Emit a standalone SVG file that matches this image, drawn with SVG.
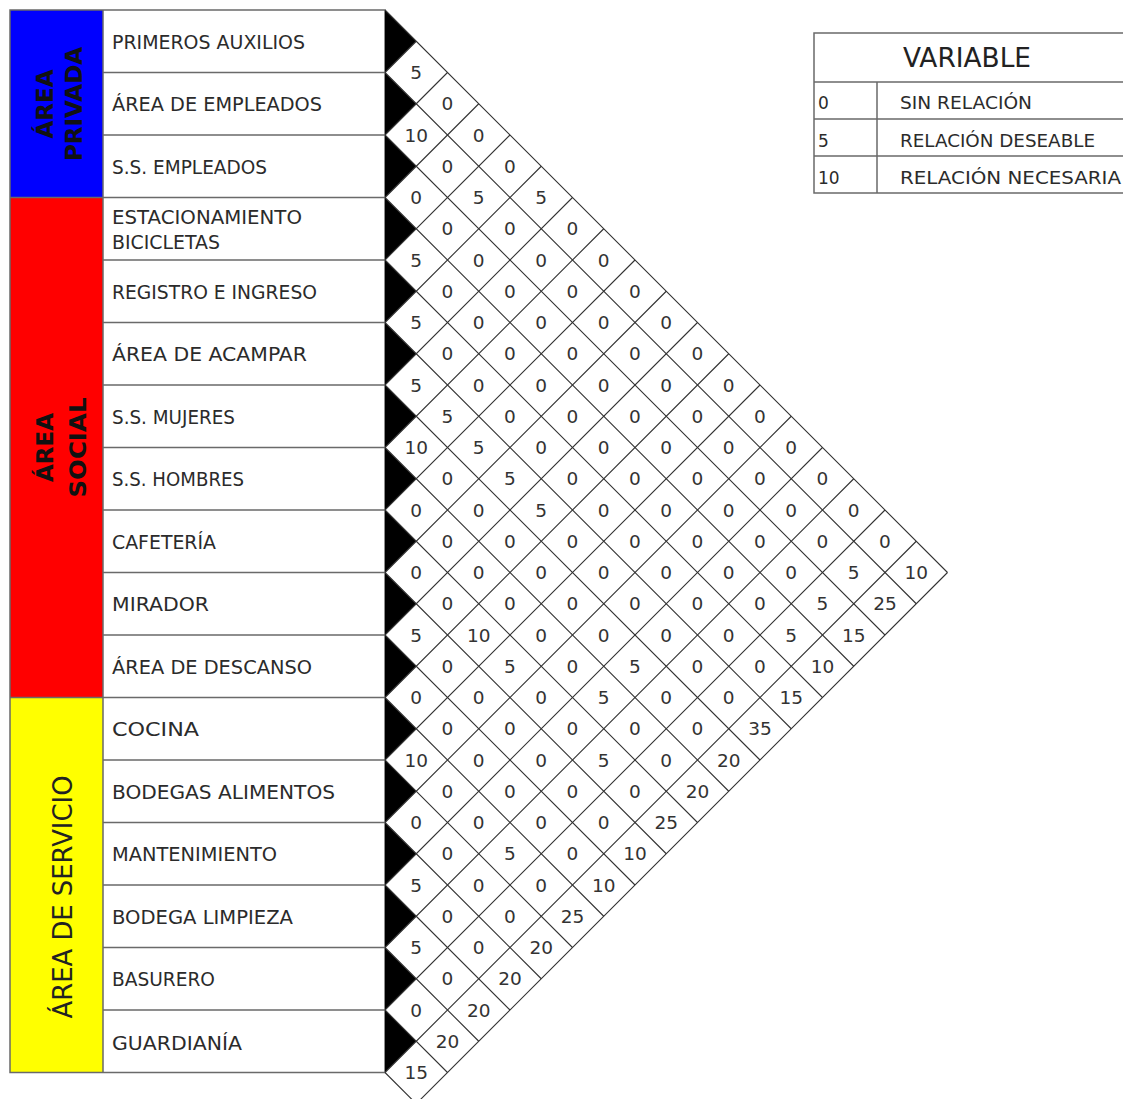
<svg xmlns="http://www.w3.org/2000/svg" width="1123" height="1099" viewBox="0 0 1123 1099">
<style>
.lbl{font-family:"DejaVu Sans","Liberation Sans",sans-serif;font-size:19px;fill:#2b2b2b}
.area{font-family:"DejaVu Sans","Liberation Sans",sans-serif;font-weight:bold;font-size:23px;fill:#111;text-anchor:middle}
.n{font-family:"DejaVu Sans","Liberation Sans",sans-serif;font-size:18.5px;fill:#333;text-anchor:middle}
.leg{font-family:"DejaVu Sans","Liberation Sans",sans-serif;font-size:18px;fill:#2b2b2b}
.row{stroke:#6a6a6a;stroke-width:1.5;fill:none}
.grid{stroke:#333;stroke-width:1.1;fill:none}
</style>
<rect width="1123" height="1099" fill="#fff"/>

<g id="areas">
  <rect x="10" y="10" width="93" height="187.5" fill="#0000ff"/>
  <rect x="10" y="197.5" width="93" height="500" fill="#ff0000"/>
  <rect x="10" y="697.5" width="93" height="375" fill="#ffff00"/>
  <g id="area-privada">
    <text class="area" transform="translate(53,104) rotate(-90)">ÁREA</text>
    <text class="area" transform="translate(82,104) rotate(-90)">PRIVADA</text>
  </g>
  <g id="area-social">
    <text class="area" transform="translate(53,447.5) rotate(-90)">ÁREA</text>
    <text class="area" transform="translate(86,447.5) rotate(-90)" textLength="100" lengthAdjust="spacingAndGlyphs">SOCIAL</text>
  </g>
  <g id="area-servicio">
    <text transform="translate(72,897) rotate(-90)" style="font-family:'DejaVu Sans','Liberation Sans',sans-serif;font-size:26px;fill:#222;text-anchor:middle" textLength="243" lengthAdjust="spacingAndGlyphs">ÁREA DE SERVICIO</text>
  </g>
</g>

<g id="table-lines">
  <path class="row" d="M103,72.5H385M103,135H385M10,197.5H385M103,260H385M103,322.5H385M103,385H385M103,447.5H385M103,510H385M103,572.5H385M103,635H385M10,697.5H385M103,760H385M103,822.5H385M103,885H385M103,947.5H385M103,1010H385"/>
  <path class="row" d="M10,10H385V1072.5H10Z M103,10V1072.5"/>
</g>

<g id="labels">
  <g id="node-primeros-auxilios"><text class="lbl" x="112" y="48.75" textLength="193" lengthAdjust="spacingAndGlyphs">PRIMEROS AUXILIOS</text></g>
  <g id="node-area-empleados"><text class="lbl" x="112" y="111.25" textLength="210" lengthAdjust="spacingAndGlyphs">ÁREA DE EMPLEADOS</text></g>
  <g id="node-ss-empleados"><text class="lbl" x="112" y="173.75" textLength="155" lengthAdjust="spacingAndGlyphs">S.S. EMPLEADOS</text></g>
  <g id="node-estacionamiento"><text class="lbl" x="112" y="223.5" textLength="190" lengthAdjust="spacingAndGlyphs">ESTACIONAMIENTO</text><text class="lbl" x="112" y="248.5" textLength="108" lengthAdjust="spacingAndGlyphs">BICICLETAS</text></g>
  <g id="node-registro"><text class="lbl" x="112" y="298.75" textLength="205" lengthAdjust="spacingAndGlyphs">REGISTRO E INGRESO</text></g>
  <g id="node-acampar"><text class="lbl" x="112" y="361.25" textLength="195" lengthAdjust="spacingAndGlyphs">ÁREA DE ACAMPAR</text></g>
  <g id="node-ss-mujeres"><text class="lbl" x="112" y="423.75" textLength="123" lengthAdjust="spacingAndGlyphs">S.S. MUJERES</text></g>
  <g id="node-ss-hombres"><text class="lbl" x="112" y="486.25" textLength="132" lengthAdjust="spacingAndGlyphs">S.S. HOMBRES</text></g>
  <g id="node-cafeteria"><text class="lbl" x="112" y="548.75" textLength="104" lengthAdjust="spacingAndGlyphs">CAFETERÍA</text></g>
  <g id="node-mirador"><text class="lbl" x="112" y="611.25" textLength="97" lengthAdjust="spacingAndGlyphs">MIRADOR</text></g>
  <g id="node-descanso"><text class="lbl" x="112" y="673.75" textLength="200" lengthAdjust="spacingAndGlyphs">ÁREA DE DESCANSO</text></g>
  <g id="node-cocina"><text class="lbl" x="112" y="736.25" textLength="87" lengthAdjust="spacingAndGlyphs">COCINA</text></g>
  <g id="node-bodegas-alimentos"><text class="lbl" x="112" y="798.75" textLength="223" lengthAdjust="spacingAndGlyphs">BODEGAS ALIMENTOS</text></g>
  <g id="node-mantenimiento"><text class="lbl" x="112" y="861.25" textLength="165" lengthAdjust="spacingAndGlyphs">MANTENIMIENTO</text></g>
  <g id="node-bodega-limpieza"><text class="lbl" x="112" y="923.75" textLength="181" lengthAdjust="spacingAndGlyphs">BODEGA LIMPIEZA</text></g>
  <g id="node-basurero"><text class="lbl" x="112" y="986.25" textLength="103" lengthAdjust="spacingAndGlyphs">BASURERO</text></g>
  <g id="node-guardiania"><text class="lbl" x="112" y="1050" textLength="130" lengthAdjust="spacingAndGlyphs">GUARDIANÍA</text></g>
</g>

<g id="connectors">
  <path fill="#000" d="M385,10L416.25,41.25L385,72.5Z M385,72.5L416.25,103.75L385,135Z M385,135L416.25,166.25L385,197.5Z M385,197.5L416.25,228.75L385,260Z M385,260L416.25,291.25L385,322.5Z M385,322.5L416.25,353.75L385,385Z M385,385L416.25,416.25L385,447.5Z M385,447.5L416.25,478.75L385,510Z M385,510L416.25,541.25L385,572.5Z M385,572.5L416.25,603.75L385,635Z M385,635L416.25,666.25L385,697.5Z M385,697.5L416.25,728.75L385,760Z M385,760L416.25,791.25L385,822.5Z M385,822.5L416.25,853.75L385,885Z M385,885L416.25,916.25L385,947.5Z M385,947.5L416.25,978.75L385,1010Z M385,1010L416.25,1041.25L385,1072.5Z"/>
  <path class="grid" d="M385,10L947.5,572.5M385,72.5L916.25,603.75M385,135L885,635M385,197.5L853.75,666.25M385,260L822.5,697.5M385,322.5L791.25,728.75M385,385L760,760M385,447.5L728.75,791.25M385,510L697.5,822.5M385,572.5L666.25,853.75M385,635L635,885M385,697.5L603.75,916.25M385,760L572.5,947.5M385,822.5L541.25,978.75M385,885L510,1010M385,947.5L478.75,1041.25M385,1010L447.5,1072.5M385,1072.5L416.25,1103.75"/>
  <path class="grid" d="M385,72.5L416.25,41.25M385,135L447.5,72.5M385,197.5L478.75,103.75M385,260L510,135M385,322.5L541.25,166.25M385,385L572.5,197.5M385,447.5L603.75,228.75M385,510L635,260M385,572.5L666.25,291.25M385,635L697.5,322.5M385,697.5L728.75,353.75M385,760L760,385M385,822.5L791.25,416.25M385,885L822.5,447.5M385,947.5L853.75,478.75M385,1010L885,510M385,1072.5L916.25,541.25M385,1135L947.5,572.5"/>
</g>

<g id="values">
  <text class="n" x="416.25" y="79">5</text>
  <text class="n" x="447.5" y="110.25">0</text>
  <text class="n" x="416.25" y="141.5">10</text><text class="n" x="478.75" y="141.5">0</text>
  <text class="n" x="447.5" y="172.75">0</text><text class="n" x="510" y="172.75">0</text>
  <text class="n" x="416.25" y="204">0</text><text class="n" x="478.75" y="204">5</text><text class="n" x="541.25" y="204">5</text>
  <text class="n" x="447.5" y="235.25">0</text><text class="n" x="510" y="235.25">0</text><text class="n" x="572.5" y="235.25">0</text>
  <text class="n" x="416.25" y="266.5">5</text><text class="n" x="478.75" y="266.5">0</text><text class="n" x="541.25" y="266.5">0</text><text class="n" x="603.75" y="266.5">0</text>
  <text class="n" x="447.5" y="297.75">0</text><text class="n" x="510" y="297.75">0</text><text class="n" x="572.5" y="297.75">0</text><text class="n" x="635" y="297.75">0</text>
  <text class="n" x="416.25" y="329">5</text><text class="n" x="478.75" y="329">0</text><text class="n" x="541.25" y="329">0</text><text class="n" x="603.75" y="329">0</text><text class="n" x="666.25" y="329">0</text>
  <text class="n" x="447.5" y="360.25">0</text><text class="n" x="510" y="360.25">0</text><text class="n" x="572.5" y="360.25">0</text><text class="n" x="635" y="360.25">0</text><text class="n" x="697.5" y="360.25">0</text>
  <text class="n" x="416.25" y="391.5">5</text><text class="n" x="478.75" y="391.5">0</text><text class="n" x="541.25" y="391.5">0</text><text class="n" x="603.75" y="391.5">0</text><text class="n" x="666.25" y="391.5">0</text><text class="n" x="728.75" y="391.5">0</text>
  <text class="n" x="447.5" y="422.75">5</text><text class="n" x="510" y="422.75">0</text><text class="n" x="572.5" y="422.75">0</text><text class="n" x="635" y="422.75">0</text><text class="n" x="697.5" y="422.75">0</text><text class="n" x="760" y="422.75">0</text>
  <text class="n" x="416.25" y="454">10</text><text class="n" x="478.75" y="454">5</text><text class="n" x="541.25" y="454">0</text><text class="n" x="603.75" y="454">0</text><text class="n" x="666.25" y="454">0</text><text class="n" x="728.75" y="454">0</text><text class="n" x="791.25" y="454">0</text>
  <text class="n" x="447.5" y="485.25">0</text><text class="n" x="510" y="485.25">5</text><text class="n" x="572.5" y="485.25">0</text><text class="n" x="635" y="485.25">0</text><text class="n" x="697.5" y="485.25">0</text><text class="n" x="760" y="485.25">0</text><text class="n" x="822.5" y="485.25">0</text>
  <text class="n" x="416.25" y="516.5">0</text><text class="n" x="478.75" y="516.5">0</text><text class="n" x="541.25" y="516.5">5</text><text class="n" x="603.75" y="516.5">0</text><text class="n" x="666.25" y="516.5">0</text><text class="n" x="728.75" y="516.5">0</text><text class="n" x="791.25" y="516.5">0</text><text class="n" x="853.75" y="516.5">0</text>
  <text class="n" x="447.5" y="547.75">0</text><text class="n" x="510" y="547.75">0</text><text class="n" x="572.5" y="547.75">0</text><text class="n" x="635" y="547.75">0</text><text class="n" x="697.5" y="547.75">0</text><text class="n" x="760" y="547.75">0</text><text class="n" x="822.5" y="547.75">0</text><text class="n" x="885" y="547.75">0</text>
  <text class="n" x="416.25" y="579">0</text><text class="n" x="478.75" y="579">0</text><text class="n" x="541.25" y="579">0</text><text class="n" x="603.75" y="579">0</text><text class="n" x="666.25" y="579">0</text><text class="n" x="728.75" y="579">0</text><text class="n" x="791.25" y="579">0</text><text class="n" x="853.75" y="579">5</text><text class="n" x="916.25" y="579">10</text>
  <text class="n" x="447.5" y="610.25">0</text><text class="n" x="510" y="610.25">0</text><text class="n" x="572.5" y="610.25">0</text><text class="n" x="635" y="610.25">0</text><text class="n" x="697.5" y="610.25">0</text><text class="n" x="760" y="610.25">0</text><text class="n" x="822.5" y="610.25">5</text><text class="n" x="885" y="610.25">25</text>
  <text class="n" x="416.25" y="641.5">5</text><text class="n" x="478.75" y="641.5">10</text><text class="n" x="541.25" y="641.5">0</text><text class="n" x="603.75" y="641.5">0</text><text class="n" x="666.25" y="641.5">0</text><text class="n" x="728.75" y="641.5">0</text><text class="n" x="791.25" y="641.5">5</text><text class="n" x="853.75" y="641.5">15</text>
  <text class="n" x="447.5" y="672.75">0</text><text class="n" x="510" y="672.75">5</text><text class="n" x="572.5" y="672.75">0</text><text class="n" x="635" y="672.75">5</text><text class="n" x="697.5" y="672.75">0</text><text class="n" x="760" y="672.75">0</text><text class="n" x="822.5" y="672.75">10</text>
  <text class="n" x="416.25" y="704">0</text><text class="n" x="478.75" y="704">0</text><text class="n" x="541.25" y="704">0</text><text class="n" x="603.75" y="704">5</text><text class="n" x="666.25" y="704">0</text><text class="n" x="728.75" y="704">0</text><text class="n" x="791.25" y="704">15</text>
  <text class="n" x="447.5" y="735.25">0</text><text class="n" x="510" y="735.25">0</text><text class="n" x="572.5" y="735.25">0</text><text class="n" x="635" y="735.25">0</text><text class="n" x="697.5" y="735.25">0</text><text class="n" x="760" y="735.25">35</text>
  <text class="n" x="416.25" y="766.5">10</text><text class="n" x="478.75" y="766.5">0</text><text class="n" x="541.25" y="766.5">0</text><text class="n" x="603.75" y="766.5">5</text><text class="n" x="666.25" y="766.5">0</text><text class="n" x="728.75" y="766.5">20</text>
  <text class="n" x="447.5" y="797.75">0</text><text class="n" x="510" y="797.75">0</text><text class="n" x="572.5" y="797.75">0</text><text class="n" x="635" y="797.75">0</text><text class="n" x="697.5" y="797.75">20</text>
  <text class="n" x="416.25" y="829">0</text><text class="n" x="478.75" y="829">0</text><text class="n" x="541.25" y="829">0</text><text class="n" x="603.75" y="829">0</text><text class="n" x="666.25" y="829">25</text>
  <text class="n" x="447.5" y="860.25">0</text><text class="n" x="510" y="860.25">5</text><text class="n" x="572.5" y="860.25">0</text><text class="n" x="635" y="860.25">10</text>
  <text class="n" x="416.25" y="891.5">5</text><text class="n" x="478.75" y="891.5">0</text><text class="n" x="541.25" y="891.5">0</text><text class="n" x="603.75" y="891.5">10</text>
  <text class="n" x="447.5" y="922.75">0</text><text class="n" x="510" y="922.75">0</text><text class="n" x="572.5" y="922.75">25</text>
  <text class="n" x="416.25" y="954">5</text><text class="n" x="478.75" y="954">0</text><text class="n" x="541.25" y="954">20</text>
  <text class="n" x="447.5" y="985.25">0</text><text class="n" x="510" y="985.25">20</text>
  <text class="n" x="416.25" y="1016.5">0</text><text class="n" x="478.75" y="1016.5">20</text>
  <text class="n" x="447.5" y="1047.75">20</text>
  <text class="n" x="416.25" y="1079">15</text>
</g>

<g id="legend">
  <path class="row" d="M1130,33H814V193H1130M814,82H1130M814,119H1130M814,156H1130M877,82V193"/>
  <text x="967" y="66.5" textLength="128" lengthAdjust="spacingAndGlyphs" style="font-family:'DejaVu Sans','Liberation Sans',sans-serif;font-size:26px;fill:#222;text-anchor:middle">VARIABLE</text>
  <text class="leg" x="818" y="109.3" style="font-size:17px">0</text>
  <text class="leg" x="818" y="146.7" style="font-size:17px">5</text>
  <text class="leg" x="818" y="184" style="font-size:17px">10</text>
  <text class="leg" x="900" y="109.3" textLength="132" lengthAdjust="spacingAndGlyphs">SIN RELACIÓN</text>
  <text class="leg" x="900" y="146.7" textLength="195" lengthAdjust="spacingAndGlyphs">RELACIÓN DESEABLE</text>
  <text class="leg" x="900" y="184" textLength="221" lengthAdjust="spacingAndGlyphs">RELACIÓN NECESARIA</text>
</g>
</svg>
